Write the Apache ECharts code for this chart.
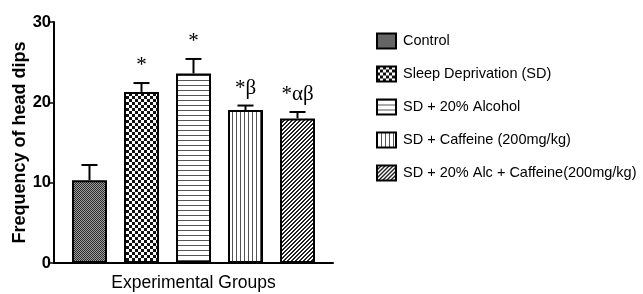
<!DOCTYPE html>
<html>
<head>
<meta charset="utf-8">
<script src="https://cdn.jsdelivr.net/npm/echarts@6/dist/echarts.min.js"></script>
<style>
html, body { margin: 0; padding: 0; background: #fff; }
#main { width: 643px; height: 294px; }
</style>
</head>
<body>
<div id="main"></div>
<script>
// groups and values
var groups = ['Control', 'Sleep Deprivation (SD)', 'SD + 20% Alcohol', 'SD + Caffeine (200mg/kg)', 'SD + 20% Alc + Caffeine(200mg/kg)'];
var means = [10.3, 21.3, 23.6, 19.05, 18.0];
var errTops = [12.2, 22.4, 25.4, 19.6, 18.8];
var marks = ['', '*', '*', '*\u03b2', '*\u03b1\u03b2'];
var yTicks = [0, 10, 20, 30];

var sans = "'Liberation Sans', Arial, sans-serif";

// fill patterns
function makePattern(kind) {
	var c = document.createElement('canvas');
	var ctx = c.getContext('2d');
	if (kind == 0) { // fine dark dots
		c.width = 2; c.height = 2;
		ctx.fillStyle = '#a0a0a0'; ctx.fillRect(0, 0, 2, 2);
		ctx.fillStyle = '#2a2a2a'; ctx.fillRect(0, 0, 1, 1); ctx.fillRect(1, 1, 1, 1);
	} else if (kind == 1) { // checkerboard
		c.width = 6; c.height = 6;
		ctx.fillStyle = '#ffffff'; ctx.fillRect(0, 0, 6, 6);
		ctx.fillStyle = '#111111'; ctx.fillRect(0, 0, 3, 3); ctx.fillRect(3, 3, 3, 3);
	} else if (kind == 2) { // horizontal lines
		c.width = 4; c.height = 5;
		ctx.fillStyle = '#ffffff'; ctx.fillRect(0, 0, 4, 5);
		ctx.fillStyle = '#555555'; ctx.fillRect(0, 0, 4, 1);
	} else if (kind == 3) { // vertical lines
		c.width = 4; c.height = 4;
		ctx.fillStyle = '#ffffff'; ctx.fillRect(0, 0, 4, 4);
		ctx.fillStyle = '#555555'; ctx.fillRect(0, 0, 1, 4);
	} else { // diagonal lines
		c.width = 4; c.height = 4;
		ctx.fillStyle = '#ffffff'; ctx.fillRect(0, 0, 4, 4);
		ctx.fillStyle = '#222222';
		for (var i = 0; i < 4; i++) {
			ctx.fillRect(3 - i, i, 1, 1);
			ctx.fillRect((3 - i + 1) % 4, i, 1, 1);
		}
	}
	return { image: c, repeat: 'repeat' };
}

var myChart = echarts.init(document.getElementById('main'));

var series = [];
for (var i = 0; i < groups.length; i++) {
	var d = [];
	for (var j = 0; j < groups.length; j++) d.push(j == i ? means[j] : '-');
	series.push({
		name: groups[i],
		type: 'bar',
		xAxisIndex: 0,
		yAxisIndex: 0,
		barWidth: 35,
		barGap: '-100%',
		data: d,
		itemStyle: { color: makePattern(i), borderColor: '#000', borderWidth: 2 },
		emphasis: { disabled: true },
		z: 3
	});
}

// error bars (upper whisker only) + significance marks
series.push({
	type: 'custom',
	xAxisIndex: 0,
	yAxisIndex: 0,
	data: errTops.map(function (v, k) { return [k, means[k], v]; }),
	renderItem: function (params, api) {
		var lo = api.coord([api.value(0), api.value(1)]);
		var hi = api.coord([api.value(0), api.value(2)]);
		var hw = 8;
		var st = { stroke: '#000', lineWidth: 2 };
		var txt = marks[params.dataIndex];
		var children = [
			{ type: 'line', shape: { x1: lo[0], y1: lo[1], x2: hi[0], y2: hi[1] }, style: st },
			{ type: 'line', shape: { x1: hi[0] - hw, y1: hi[1], x2: hi[0] + hw, y2: hi[1] }, style: st }
		];
		if (txt) {
			children.push({
				type: 'text',
				x: hi[0], y: hi[1] - 7,
				style: {
					text: txt, fill: '#000',
					font: '21px "Liberation Serif", "Times New Roman", serif',
					align: 'center', verticalAlign: 'bottom'
				}
			});
		}
		return { type: 'group', children: children };
	},
	z: 4
});

myChart.setOption({
	animation: false,
	backgroundColor: '#fff',
	grid: [
		{ left: 63.5, width: 260, top: 22, bottom: 31, outerBoundsMode: 'none' },
		{ left: 54, right: 310, top: 22, bottom: 31, outerBoundsMode: 'none' }
	],
	legend: {
		orient: 'vertical',
		left: 371,
		top: 27,
		itemWidth: 19,
		itemHeight: 15,
		itemGap: 15,
		selectedMode: false,
		icon: 'rect',
		textStyle: { fontFamily: sans, fontSize: 14.5, lineHeight: 18, color: '#000', padding: [0, 0, 0, 2] },
		data: groups
	},
	xAxis: [
		{
			type: 'category', gridIndex: 0, data: groups,
			axisLine: { show: false }, axisTick: { show: false }, axisLabel: { show: false }
		},
		{
			type: 'value', gridIndex: 1, min: 0, max: 1,
			axisLine: { show: true, onZero: false, lineStyle: { color: '#000', width: 2 } },
			axisTick: { show: false }, axisLabel: { show: false }, splitLine: { show: false },
			name: 'Experimental Groups', nameLocation: 'middle', nameGap: 11,
			nameTextStyle: { fontFamily: sans, fontSize: 17.5, color: '#000', verticalAlign: 'top' }
		}
	],
	yAxis: [
		{
			type: 'value', gridIndex: 0, min: 0, max: 30, interval: 10,
			axisLine: { show: false }, axisTick: { show: false }, axisLabel: { show: false }, splitLine: { show: false }
		},
		{
			type: 'value', gridIndex: 1, min: yTicks[0], max: yTicks[yTicks.length - 1], interval: 10,
			axisLine: { show: true, lineStyle: { color: '#000', width: 2 } },
			axisTick: { show: true, length: 4, lineStyle: { color: '#000', width: 1.5 } },
			axisLabel: { margin: 3, fontFamily: sans, fontWeight: 'bold', fontSize: 16.5, color: '#000' },
			splitLine: { show: false },
			name: 'Frequency of head dips', nameLocation: 'middle', nameGap: 24,
			nameTextStyle: { fontFamily: sans, fontWeight: 'bold', fontSize: 18, color: '#000' }
		}
	],
	series: series
});
</script>
</body>
</html>
